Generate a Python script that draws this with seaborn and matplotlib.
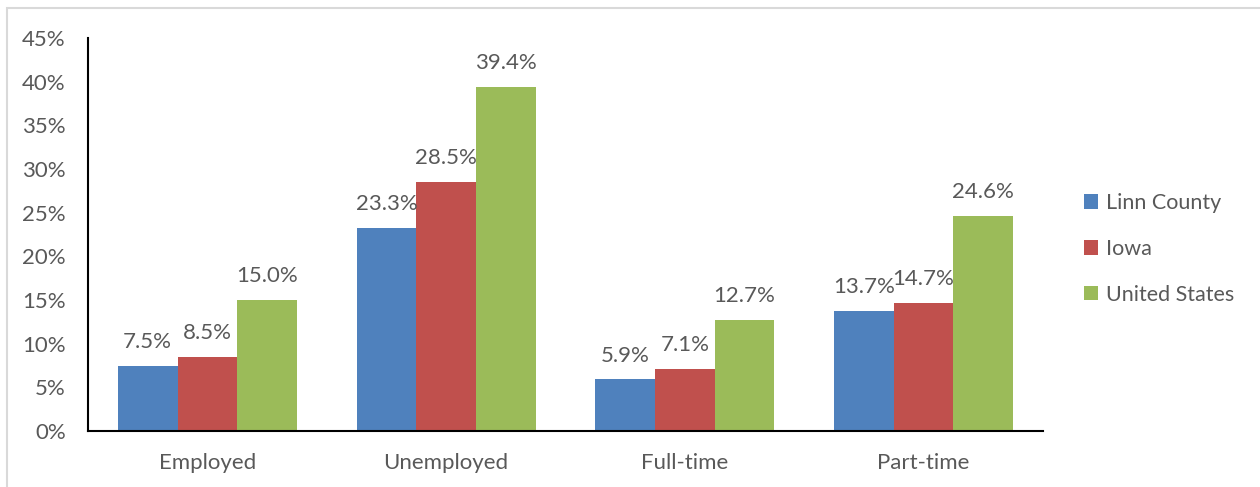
import matplotlib
matplotlib.use("Agg")
import matplotlib.pyplot as plt
from matplotlib.patches import Rectangle
from matplotlib.ticker import FuncFormatter
import seaborn as sns
import pandas as pd

categories = ["Employed", "Unemployed", "Full-time", "Part-time"]
series = ["Linn County", "Iowa", "United States"]
linn_county = [7.5, 23.3, 5.9, 13.7]
iowa = [8.5, 28.5, 7.1, 14.7]
united_states = [15.0, 39.4, 12.7, 24.6]
y_ticks = [0, 5, 10, 15, 20, 25, 30, 35, 40, 45]

colors = ["#4F81BD", "#C0504D", "#9BBB59"]
text_color = "#595959"

rows = []
for name, vals in zip(series, [linn_county, iowa, united_states]):
    for cat, v in zip(categories, vals):
        rows.append({"category": cat, "area": name, "pct": v})
df = pd.DataFrame(rows)

sns.set_theme(style="white")
plt.rcParams["font.family"] = ["Lato", "DejaVu Sans"]

W, H = 1260, 487
fig = plt.figure(figsize=(W / 100, H / 100), dpi=100)
ax = fig.add_axes([88 / W, 56 / H, (1043 - 88) / W, (431 - 38) / H])

# light chart-area frame
fig.patches.append(Rectangle((7 / W, -0.1), 1.2, (H - 8) / H + 0.1,
                             transform=fig.transFigure, fill=False,
                             edgecolor="#D9D9D9", linewidth=1.5, zorder=0))

sns.barplot(data=df, x="category", y="pct", hue="area", order=categories,
            hue_order=series, palette=colors, width=0.75, gap=0,
            saturation=1, ax=ax, legend=True, linewidth=0)

for cont in ax.containers:
    ax.bar_label(cont, fmt="%.1f%%", padding=10, fontsize=16, color=text_color)

ax.set_xlim(-0.5, 3.5)
ax.set_ylim(0, 45)
ax.set_yticks(y_ticks)
ax.yaxis.set_major_formatter(FuncFormatter(lambda v, p: f"{v:.0f}%"))
ax.set_xlabel("")
ax.set_ylabel("")
ax.tick_params(axis="both", length=0, labelsize=16, colors=text_color)
ax.tick_params(axis="y", pad=16)
ax.tick_params(axis="x", pad=16)
for s in ["top", "right"]:
    ax.spines[s].set_visible(False)
for s in ["left", "bottom"]:
    ax.spines[s].set_color("black")
    ax.spines[s].set_linewidth(1.5)
ax.grid(False)

leg = ax.legend(loc="center left", bbox_to_anchor=(1084 / W, (H - 249) / H),
                bbox_transform=fig.transFigure, frameon=False, fontsize=15.5,
                handlelength=0.65, handleheight=0.65, handletextpad=0.35,
                labelspacing=1.2, borderaxespad=0, borderpad=0)
for t in leg.get_texts():
    t.set_color(text_color)

fig.savefig("out.png", dpi=100)
